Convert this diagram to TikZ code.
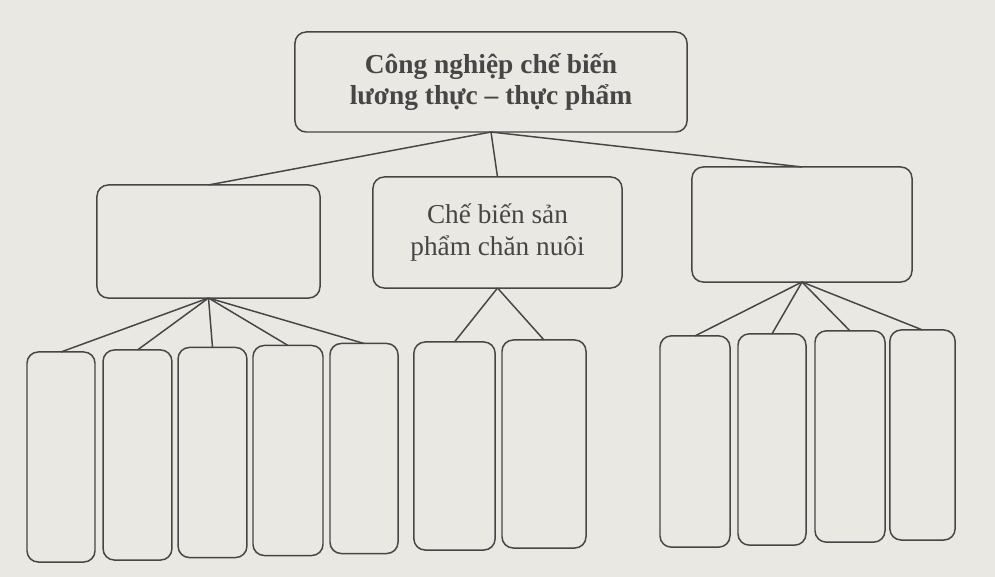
\documentclass[tikz,border=0pt]{standalone}
\usepackage{fontspec}
\setmainfont{Liberation Serif}
\definecolor{paper}{RGB}{234,232,226}
\definecolor{ink}{RGB}{70,70,70}
\tikzset{
  box/.style={draw=ink,rounded corners=8pt,inner sep=0pt,outer sep=0pt,align=center,text=ink},
  leaf/.style={box,minimum width=1.72cm,minimum height=5.25cm}
}
\begin{document}
\begin{tikzpicture}[x=0.025cm,y=-0.025cm,line width=1.05pt]
\fill[paper] (0,0) rectangle (995,577);
\useasboundingbox (0,0) rectangle (995,577);
\node[box,minimum width=9.8cm,minimum height=2.5cm,font=\fontsize{19.5}{22}\selectfont\bfseries] (top) at (491,82) {Công nghiệp chế biến\\ lương thực -- thực phẩm};
\node[box,minimum width=5.575cm,minimum height=2.825cm] (l) at (208.5,241.5) {};
\node[box,minimum width=6.225cm,minimum height=2.775cm,font=\fontsize{19.4}{23}\selectfont] (m) at (497.5,232.5) {Chế biến sản\\ phẩm chăn nuôi};
\node[box,minimum width=5.5cm,minimum height=2.875cm] (r) at (802,224.5) {};
\node[leaf,minimum width=1.7cm] (l1) at (61,457) {};
\node[leaf] (l2) at (137.5,455) {};
\node[leaf] (l3) at (212.5,452.5) {};
\node[leaf,minimum width=1.75cm] (l4) at (288,450.5) {};
\node[leaf,minimum width=1.7cm] (l5) at (364,448.5) {};
\node[leaf,minimum width=2.03cm,minimum height=5.2cm] (m1) at (454.5,446) {};
\node[leaf,minimum width=2.1cm,minimum height=5.2cm] (m2) at (544,444) {};
\node[leaf,minimum width=1.75cm,minimum height=5.28cm] (r1) at (695,441.5) {};
\node[leaf,minimum width=1.7cm,minimum height=5.28cm] (r2) at (772,439.5) {};
\node[leaf,minimum width=1.75cm,minimum height=5.28cm] (r3) at (850,436.5) {};
\node[leaf,minimum width=1.63cm] (r4) at (922.5,435) {};
\draw[ink] (top.south)--(l.north);
\draw[ink] (top.south)--(m.north);
\draw[ink] (top.south)--(r.north);
\draw[ink] (l.south)--(l1.north);
\draw[ink] (l.south)--(l2.north);
\draw[ink] (l.south)--(l3.north);
\draw[ink] (l.south)--(l4.north);
\draw[ink] (l.south)--(l5.north);
\draw[ink] (m.south)--(m1.north);
\draw[ink] (m.south)--(m2.north);
\draw[ink] (r.south)--(r1.north);
\draw[ink] (r.south)--(r2.north);
\draw[ink] (r.south)--(r3.north);
\draw[ink] (r.south)--(r4.north);
\end{tikzpicture}
\end{document}
